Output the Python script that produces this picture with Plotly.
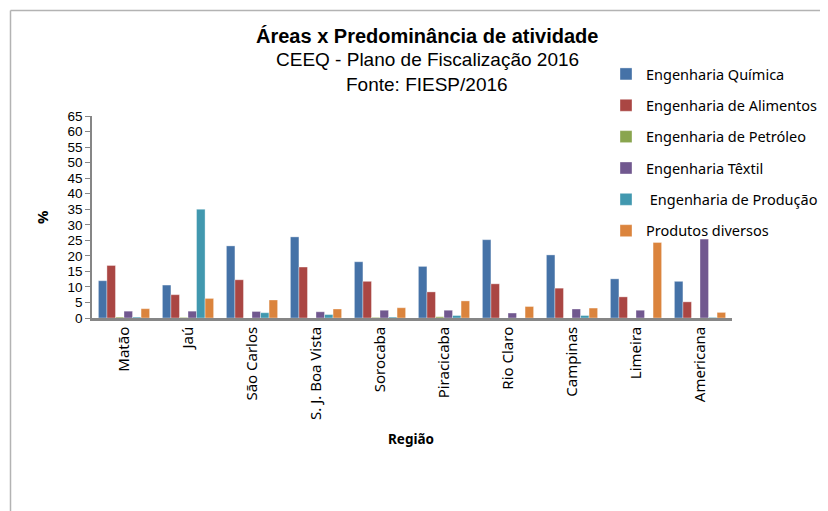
import plotly.graph_objects as go

categories = ["Matão", "Jaú", "São Carlos", "S. J. Boa Vista", "Sorocaba",
              "Piracicaba", "Rio Claro", "Campinas", "Limeira", "Americana"]

eng_quimica = [12.0, 10.6, 23.2, 26.1, 18.1, 16.6, 25.2, 20.3, 12.6, 11.8]
eng_alimentos = [16.9, 7.5, 12.3, 16.4, 11.8, 8.4, 11.0, 9.6, 6.8, 5.2]
eng_petroleo = [0.3, 0.2, 0.0, 0.0, 0.2, 0.4, 0.0, 0.0, 0.0, 0.0]
eng_textil = [2.2, 2.2, 2.1, 2.0, 2.5, 2.5, 1.6, 2.9, 2.5, 25.4]
eng_producao = [0.3, 35.0, 1.7, 1.1, 0.3, 0.8, 0.0, 0.8, 0.0, 0.2]
produtos_diversos = [3.0, 6.3, 5.8, 2.9, 3.3, 5.5, 3.7, 3.2, 24.3, 1.8]

series = [
    ("Engenharia Química", eng_quimica, "#4572A7"),
    ("Engenharia de Alimentos", eng_alimentos, "#AA4643"),
    ("Engenharia de Petróleo", eng_petroleo, "#89A54E"),
    ("Engenharia Têxtil", eng_textil, "#71588F"),
    (" Engenharia de Produção", eng_producao, "#4198AF"),
    ("Produtos diversos", produtos_diversos, "#DB843D"),
]

y_ticks = list(range(0, 70, 5))

LBL_FONT = "Noto Sans"
TITLE_FONT = "Liberation Sans"

fig = go.Figure()
for i, (name, vals, col) in enumerate(series):
    fig.add_trace(go.Bar(
        x=categories, y=vals, name=name, legendgroup=f"g{i}",
        marker=dict(color=col, line=dict(color="rgba(255,255,255,0.6)", width=0.6)),
    ))

# page body has an 8px margin; positions below are in screen pixels
OFF = 8
W, H = 828 - OFF, 511 - OFF
L, R, T, B = 92 - OFF, 732 - OFF, 116 - OFF, 318 - OFF

def px(x):
    return (x - OFF - L) / (R - L)

def py(y):
    return (B - (y - OFF)) / (B - T)

def note(text, x, y, size, family, angle=0):
    return dict(text=text, x=px(x), y=py(y), xref="paper", yref="paper",
                xanchor="center", yanchor="middle", showarrow=False,
                textangle=angle, font=dict(family=family, size=size, color="#000000"))

fig.update_layout(
    width=W, height=H,
    margin=dict(l=L, r=W - R, t=T, b=H - B, autoexpand=False),
    paper_bgcolor="white", plot_bgcolor="white",
    barmode="group", bargap=0.2, bargroupgap=0.0,
    showlegend=True,
    legend=dict(
        x=px(606), y=py(58), xanchor="left", yanchor="top",
        font=dict(family=LBL_FONT, size=14.5, color="#000000"),
        tracegroupgap=9.5, itemwidth=30, bgcolor="rgba(0,0,0,0)",
    ),
    xaxis=dict(
        showline=True, linecolor="#868686", linewidth=2.5,
        ticks="", tickangle=-90,
        tickfont=dict(family=LBL_FONT, size=15, color="#000000"),
        showgrid=False,
    ),
    yaxis=dict(
        range=[0, 65], tickvals=y_ticks,
        showline=True, linecolor="#868686", linewidth=1.5,
        ticks="outside", ticklen=5, tickcolor="#868686",
        tickfont=dict(family="Liberation Sans", size=13.5, color="#000000"),
        showgrid=False, zeroline=False,
    ),
    annotations=[
        note("<b>Áreas x Predominância de atividade</b>", 427, 36, 20, TITLE_FONT),
        note("CEEQ - Plano de Fiscalização 2016", 427, 60, 19, TITLE_FONT),
        note("Fonte: FIESP/2016", 427, 84, 19, TITLE_FONT),
        note("<b>%</b>", 42, 217, 15, LBL_FONT, angle=-90),
        note("<b>Região</b>", 411, 439, 13.5, LBL_FONT),
    ],
    shapes=[
        dict(type="line", xref="paper", yref="paper",
             x0=px(10.5), x1=px(10.5), y0=py(10.5), y1=py(520),
             line=dict(color="#B3B3B3", width=1.5)),
        dict(type="line", xref="paper", yref="paper",
             x0=px(10.5), x1=px(840), y0=py(10.5), y1=py(10.5),
             line=dict(color="#B3B3B3", width=1.5)),
    ],
)

fig.write_html("out.html")
